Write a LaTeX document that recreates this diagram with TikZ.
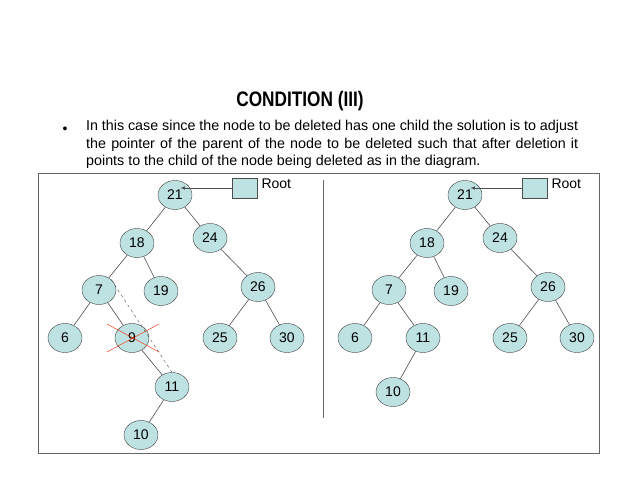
\documentclass[tikz,border=0pt]{standalone}
\usepackage{fontspec}
\setmainfont{Liberation Sans}
\usetikzlibrary{shapes.geometric}
\definecolor{lightcyan}{RGB}{190,226,226}
\begin{document}
\begin{tikzpicture}[x=1pt,y=-1pt,
  bn/.style={ellipse,draw=black!75,fill=lightcyan,minimum width=34pt,minimum height=29pt,inner sep=0pt,font=\fontsize{14}{14}\selectfont},
  ed/.style={draw=black!70,line width=0.6pt},
  rootbox/.style={draw=black!70,fill=lightcyan,minimum width=25pt,minimum height=20pt,inner sep=0pt}]
\useasboundingbox (0,0) rectangle (638,493);
\node[font=\bfseries\fontsize{21}{21}\selectfont,xscale=0.82] (title) at (300,101) {CONDITION (III)};
\node (bul) at (65,130) {\fontsize{14}{14}\selectfont •};
\node[anchor=north west,text width=492pt,align=justify,inner sep=0pt,font=\fontsize{14.3}{17.5}\selectfont] (para) at (86,120)
 {In this case since the node to be deleted has one child the solution is to adjust the pointer of the parent of the node to be deleted such that after deletion it points to the child of the node being deleted as in the diagram.};
\node[draw=black!60,minimum width=561pt,minimum height=280pt,anchor=north west,inner sep=0pt] (frame) at (38,173) {};
\coordinate (dtop) at (323,180);
\coordinate (dbot) at (323,418);
\draw[black!60] (dtop) -- (dbot);
% left tree
\node[bn] (a21) at (175,195) {21};
\node[bn] (a18) at (137,243) {18};
\node[bn] (a24) at (210,238) {24};
\node[bn] (a7) at (99,290) {7};
\node[bn] (a19) at (161,291) {19};
\node[bn] (a26) at (258,287) {26};
\node[bn] (a6) at (65,338) {6};
\node[bn] (a9) at (132,338) {9};
\node[bn] (a25) at (220,338) {25};
\node[bn] (a30) at (287,338) {30};
\node[bn] (a11) at (172,387) {11};
\node[bn] (a10) at (141,435) {10};
\node[rootbox] (ar) at (245,188) {};
\node[anchor=west,font=\fontsize{14}{14}\selectfont] (arl) at (258,184) {Root};
\draw[ed,-latex] (ar.west) -- ++(-52,0) coordinate (ae);
\foreach \p/\c in {a21/a18,a21/a24,a18/a7,a18/a19,a24/a26,a7/a6,a7/a9,a26/a25,a26/a30,a9/a11,a11/a10}
  \draw[ed] (\p) -- (\c);
\draw[black!70,dashed] (a7.north east) -- (a11.north);
\coordinate (x1) at (107,324); \coordinate (x2) at (159,352);
\coordinate (x3) at (107,352); \coordinate (x4) at (159,324);
\draw[red!70!orange] (x1) -- (x2) (x3) -- (x4);
% right tree
\node[bn] (b21) at (465,195) {21};
\node[bn] (b18) at (427,243) {18};
\node[bn] (b24) at (500,238) {24};
\node[bn] (b7) at (389,290) {7};
\node[bn] (b19) at (451,291) {19};
\node[bn] (b26) at (548,287) {26};
\node[bn] (b6) at (355,338) {6};
\node[bn] (b11) at (423,338) {11};
\node[bn] (b25) at (510,338) {25};
\node[bn] (b30) at (577,338) {30};
\node[bn] (b10) at (393,392) {10};
\node[rootbox] (br) at (535,188) {};
\node[anchor=west,font=\fontsize{14}{14}\selectfont] (brl) at (548,184) {Root};
\draw[ed,-latex] (br.west) -- ++(-52,0) coordinate (be);
\foreach \p/\c in {b21/b18,b21/b24,b18/b7,b18/b19,b24/b26,b7/b6,b7/b11,b26/b25,b26/b30,b11/b10}
  \draw[ed] (\p) -- (\c);
\end{tikzpicture}
\end{document}
